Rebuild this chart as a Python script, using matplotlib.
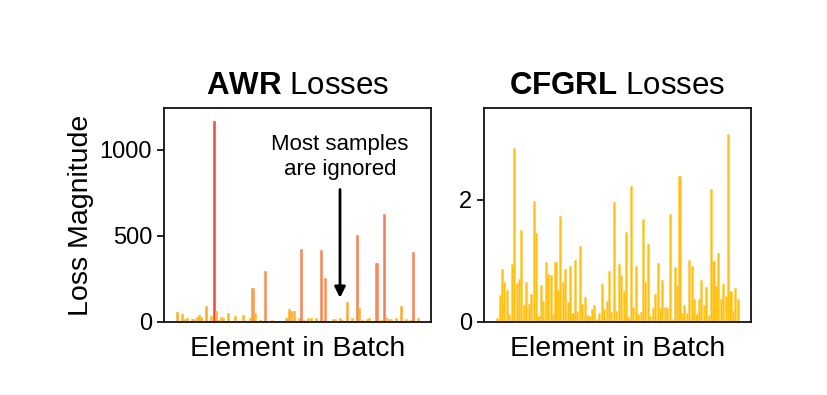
#! /usr/bin/env python3
import matplotlib
matplotlib.use("Agg")
import matplotlib.pyplot as plt
import numpy as np
from matplotlib.colors import LinearSegmentedColormap


plt.rcParams["font.family"] = ["Liberation Sans", "DejaVu Sans"]
plt.rcParams["mathtext.fontset"] = "custom"
plt.rcParams["mathtext.bf"] = "Liberation Sans:bold"
plt.rcParams["mathtext.rm"] = "Liberation Sans"

# Loss per element of the batch.
awr_losses = [
    60, 5, 45, 17, 21, 5, 17, 17, 27, 41,
    27, 3, 95, 5, 35, 1170, 66, 12, 27, 21,
    3, 54, 2, 3, 35, 8, 8, 41, 8, 2,
    21, 196, 54, 2, 12, 1, 296, 1, 2, 12,
    8, 2, 3, 8, 4, 21, 74, 66, 66, 3,
    21, 424, 12, 3, 21, 21, 4, 21, 3, 418,
    12, 254, 3, 2, 17, 17, 3, 21, 12, 4,
    114, 3, 21, 3, 506, 81, 12, 3, 17, 21,
    3, 2, 341, 3, 12, 626, 27, 17, 17, 3,
    21, 3, 93, 3, 17, 3, 12, 409, 3, 24,
]
cfgrl_losses = [
    0.06, 0.44, 0.87, 0.66, 0.52, 0.13, 0.95, 2.84, 0.63, 0.70,
    1.51, 0.27, 0.66, 0.29, 0.46, 1.98, 1.46, 0.10, 0.61, 0.34,
    0.98, 0.79, 0.76, 0.13, 0.98, 0.53, 1.74, 0.66, 0.87, 0.32,
    0.91, 0.14, 1.02, 0.18, 1.25, 0.29, 0.41, 0.11, 0.09, 0.21,
    0.28, 0.05, 0.14, 0.62, 0.21, 0.34, 0.84, 0.17, 1.97, 0.18,
    0.95, 0.77, 0.51, 1.47, 0.08, 2.22, 0.25, 0.91, 0.13, 0.16,
    1.68, 0.66, 1.27, 0.10, 0.23, 0.45, 0.96, 0.22, 0.69, 0.25,
    0.23, 1.77, 0.05, 0.90, 0.61, 2.39, 0.15, 0.28, 0.14, 1.01,
    0.91, 0.38, 0.13, 0.38, 0.68, 0.28, 0.57, 0.11, 2.17, 0.99,
    0.58, 1.13, 0.38, 0.62, 0.43, 3.08, 0.51, 0.18, 0.56, 0.37,
]

awr_yticks = [0, 500, 1000]
cfgrl_yticks = [0, 2]

heat = LinearSegmentedColormap.from_list(
    "heat", [(0.0, "#ffbf1a"), (0.12, "#fba244"), (0.3, "#f8895c"),
             (0.6, "#f67a55"), (1.0, "#f24a3e")]
)

fig = plt.figure(figsize=(8.28, 3.95), dpi=100)
ax1 = fig.add_axes([0.198, 0.185, 0.3225, 0.5415])
ax2 = fig.add_axes([0.5845, 0.185, 0.3225, 0.5415])

# AWR: bars coloured by their own magnitude.
x1 = np.arange(len(awr_losses))
v1 = np.array(awr_losses, dtype=float)
c1 = heat(v1 / v1.max())
ax1.bar(x1, v1, width=0.85, color=c1, edgecolor=c1, linewidth=0.4)
ax1.set_ylim(0, 1244)
ax1.set_yticks(awr_yticks)
ax1.set_title(r"$\bf{AWR}$ Losses", fontsize=22.5, pad=10)
ax1.set_ylabel("Loss Magnitude", fontsize=20.5)
ax1.set_xlabel("Element in Batch", fontsize=20.5, labelpad=10)
ax1.text(67, 825, "Most samples\nare ignored", ha="center", va="bottom",
         fontsize=16, linespacing=1.25)
ax1.annotate("", xy=(67, 140), xytext=(67, 770),
             arrowprops=dict(arrowstyle="-|>", color="black", lw=2,
                             mutation_scale=16, shrinkA=0, shrinkB=0))

# CFGRL: every element contributes.
x2 = np.arange(len(cfgrl_losses))
ax2.bar(x2, cfgrl_losses, width=0.85, color="#ffc010",
        edgecolor="#ffd04a", linewidth=0.4)
ax2.set_ylim(0, 3.5)
ax2.set_yticks(cfgrl_yticks)
ax2.set_title(r"$\bf{CFGRL}$ Losses", fontsize=22.5, pad=10)
ax2.set_xlabel("Element in Batch", fontsize=20.5, labelpad=10)

for ax in (ax1, ax2):
    ax.set_xticks([])
    ax.tick_params(axis="y", labelsize=17, length=5, width=1.2)
    for s in ax.spines.values():
        s.set_linewidth(1.3)
        s.set_color("#111111")

fig.savefig("out.png", dpi=100)
